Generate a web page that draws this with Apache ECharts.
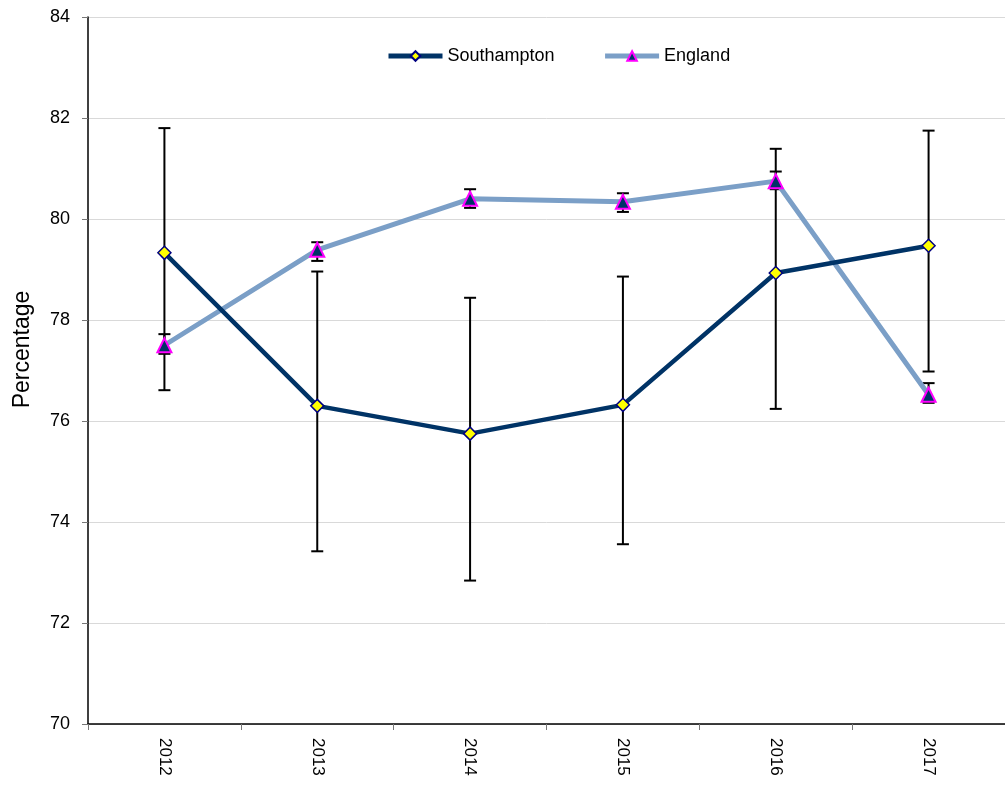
<!DOCTYPE html>
<html>
<head>
<meta charset="utf-8">
<script src="https://cdn.jsdelivr.net/npm/echarts@6/dist/echarts.min.js"></script>
<style>html,body{margin:0;padding:0;background:#fff}#c{width:1005px;height:786px}</style>
</head>
<body>
<div id="c"></div>
<script>
var years = ['2012','2013','2014','2015','2016','2017'];
var sotonValues = [79.33, 76.30, 75.75, 76.32, 78.93, 79.47];
var sotonLow    = [76.61, 73.42, 72.84, 73.56, 76.24, 76.98];
var sotonHigh   = [81.80, 78.96, 78.44, 78.86, 81.39, 81.75];
var engValues   = [77.50, 79.39, 80.40, 80.34, 80.75, 76.52];
var engLow      = [77.33, 79.17, 80.22, 80.14, 80.59, 76.36];
var engHigh     = [77.72, 79.54, 80.59, 80.51, 80.94, 76.75];
var yTicks = [70, 72, 74, 76, 78, 80, 82, 84];

var FONT = '"Liberation Sans", Arial, sans-serif';

function errData(low, high) {
  return years.map(function (y, i) { return [i, low[i], high[i]]; });
}
function renderErr(params, api) {
  var x = api.value(0);
  var lo = api.coord([x, api.value(1)]);
  var hi = api.coord([x, api.value(2)]);
  var hw = 6;
  var st = { stroke: '#000', lineWidth: 2 };
  return {
    type: 'group',
    children: [
      { type: 'line', shape: { x1: lo[0], y1: lo[1], x2: hi[0], y2: hi[1] }, style: st },
      { type: 'line', shape: { x1: lo[0] - hw, y1: lo[1], x2: lo[0] + hw, y2: lo[1] }, style: st },
      { type: 'line', shape: { x1: hi[0] - hw, y1: hi[1], x2: hi[0] + hw, y2: hi[1] }, style: st }
    ]
  };
}

var chart = echarts.init(document.getElementById('c'));
chart.setOption({
  animation: false,
  backgroundColor: '#fff',
  textStyle: { fontFamily: FONT },
  grid: { left: 88, top: 17, bottom: 62, right: -7, containLabel: false },
  legend: {
    data: [
      { name: 'Southampton', lineStyle: { width: 5, color: '#003366' } },
      { name: 'England', lineStyle: { width: 5, color: '#7b9fc7' } }
    ],
    top: 47,
    left: 386,
    padding: 0,
    itemWidth: 54,
    itemHeight: 12,
    itemGap: 48,
    lineStyle: { width: 5 },
    textStyle: { fontFamily: FONT, fontSize: 18, color: '#000', padding: [0, 0, 0, 0] }
  },
  xAxis: {
    type: 'category',
    data: years,
    boundaryGap: true,
    axisLine: { lineStyle: { color: '#000', width: 1.5 } },
    axisTick: { show: true, length: 6, lineStyle: { color: '#777' }, alignWithLabel: false },
    axisLabel: { rotate: -90, fontSize: 17, color: '#000', margin: 14, fontFamily: FONT },
    splitLine: { show: false }
  },
  yAxis: {
    type: 'value',
    min: 70, max: 84, interval: 2,
    name: 'Percentage',
    nameLocation: 'middle',
    nameGap: 54,
    nameTextStyle: { fontSize: 23, color: '#000', fontFamily: FONT, padding: [0, 0, 0, 42] },
    axisLine: { show: true, lineStyle: { color: '#000', width: 1.5 } },
    axisTick: { show: true, length: 6, lineStyle: { color: '#777' } },
    axisLabel: { fontSize: 18, color: '#000', margin: 18, fontFamily: FONT },
    splitLine: { show: true, lineStyle: { color: '#d9d9d9', width: 1 } }
  },
  series: [
    {
      name: 'Southampton',
      type: 'line',
      data: sotonValues,
      z: 3,
      symbol: 'diamond',
      symbolSize: 13,
      lineStyle: { color: '#003366', width: 4.5 },
      itemStyle: { color: '#ffff00', borderColor: '#000080', borderWidth: 1.5 },
      color: '#003366'
    },
    {
      name: 'England',
      type: 'line',
      data: engValues,
      z: 2,
      symbol: 'triangle',
      symbolSize: 14,
      lineStyle: { color: '#7b9fc7', width: 5 },
      itemStyle: { color: '#003366', borderColor: '#ff00ff', borderWidth: 2 },
      color: '#7b9fc7'
    },
    {
      name: 'sotonErr',
      type: 'custom',
      data: errData(sotonLow, sotonHigh),
      renderItem: renderErr,
      z: 1,
      silent: true
    },
    {
      name: 'engErr',
      type: 'custom',
      data: errData(engLow, engHigh),
      renderItem: renderErr,
      z: 1,
      silent: true
    }
  ]
});
</script>
</body>
</html>
